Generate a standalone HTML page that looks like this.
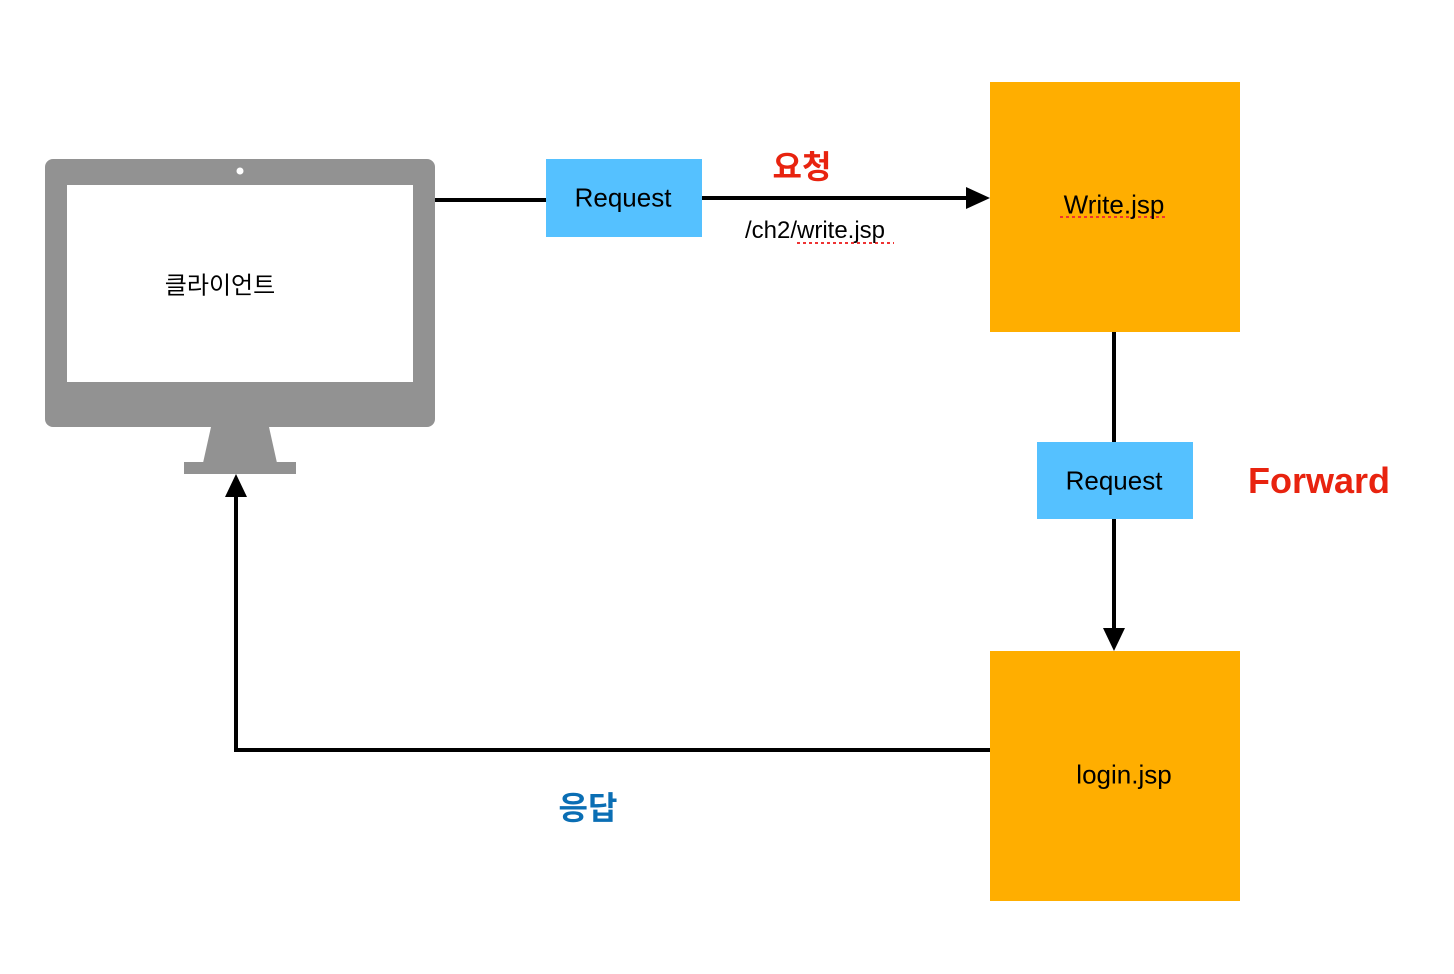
<!DOCTYPE html>
<html><head><meta charset="utf-8"><style>
body{margin:0;width:1454px;height:974px;background:#fff;position:relative;overflow:hidden;font-family:"Liberation Sans","Noto Sans CJK KR",sans-serif}
.a{position:absolute}
.t{position:absolute;white-space:nowrap;transform:translate(-50%,-50%)}
</style></head><body>
<svg class="a" style="left:0;top:0" width="1454" height="974">
<rect x="45" y="159" width="390" height="268" rx="8" fill="#929292"/>
<rect x="67" y="185" width="346" height="197" fill="#fff"/>
<circle cx="240" cy="171" r="3.5" fill="#fff"/>
<polygon points="211,427 269,427 277,463 203,463" fill="#929292"/>
<rect x="184" y="462" width="112" height="12" fill="#929292"/>
<rect x="546" y="159" width="156" height="78" fill="#55C1FF"/>
<rect x="990" y="82" width="250" height="250" fill="#FFAE00"/>
<rect x="1037" y="442" width="156" height="77" fill="#55C1FF"/>
<rect x="990" y="651" width="250" height="250" fill="#FFAE00"/>
<g stroke="#000" stroke-width="4" fill="none">
<line x1="435" y1="200" x2="546" y2="200"/>
<line x1="702" y1="198" x2="968" y2="198"/>
<line x1="1114" y1="332" x2="1114" y2="442"/>
<line x1="1114" y1="519" x2="1114" y2="630"/>
<polyline points="990,750 236,750 236,494"/>
</g>
<polygon points="966,187 990,198 966,209" fill="#000"/>
<polygon points="1103,628 1114,651 1125,628" fill="#000"/>
<polygon points="225,497 236,474 247,497" fill="#000"/>
<line x1="797" y1="243" x2="894" y2="243" stroke="#e33" stroke-width="2" stroke-dasharray="3,3"/>
<line x1="1060" y1="217" x2="1166" y2="217" stroke="#e33" stroke-width="2" stroke-dasharray="3,3"/>
</svg>
<div class="t" style="left:220px;top:283px;font-size:24px">클라이언트</div>
<div class="t" style="left:623px;top:198px;font-size:26px">Request</div>
<div class="t" style="left:1114px;top:481px;font-size:26px">Request</div>
<div class="t" style="left:802px;top:165px;font-size:32px;font-weight:bold;color:#E8230F">요청</div>
<div class="t" style="left:815px;top:231px;font-size:24px">/ch2/write.jsp</div>
<div class="t" style="left:1114px;top:205px;font-size:26px">Write.jsp</div>
<div class="t" style="left:1124px;top:775px;font-size:26px">login.jsp</div>
<div class="t" style="left:1319px;top:481px;font-size:36px;font-weight:bold;color:#E8230F">Forward</div>
<div class="t" style="left:588px;top:806px;font-size:32px;font-weight:bold;color:#0A6EB4">응답</div>
</body></html>
